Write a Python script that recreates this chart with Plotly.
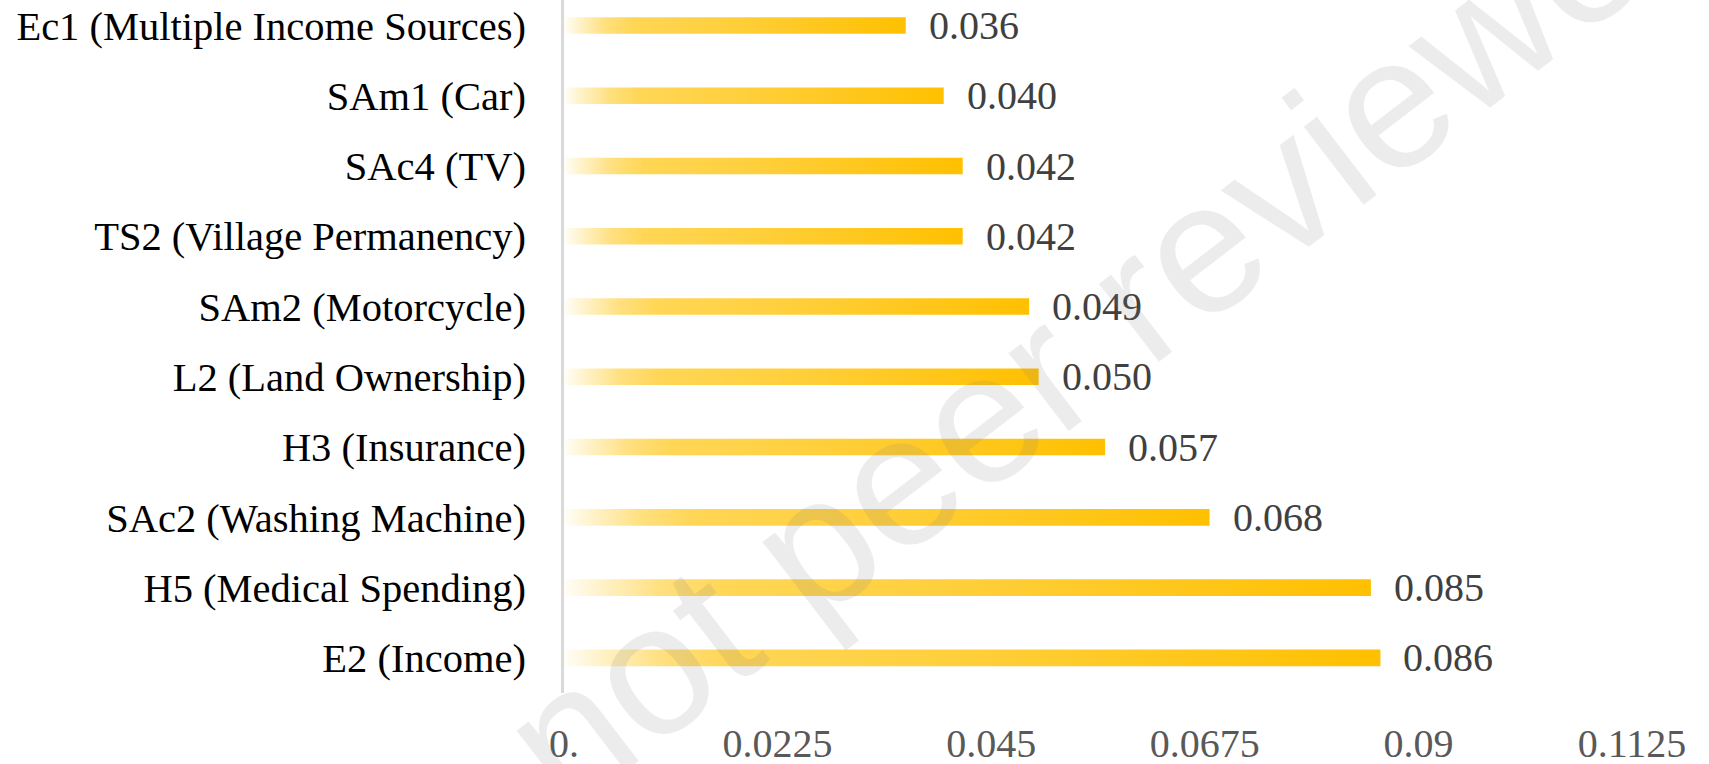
import plotly.graph_objects as go

# Indicator weights, listed top to bottom as displayed
categories = [
    "Ec1 (Multiple Income Sources)",
    "SAm1 (Car)",
    "SAc4 (TV)",
    "TS2 (Village Permanency)",
    "SAm2 (Motorcycle)",
    "L2 (Land Ownership)",
    "H3 (Insurance)",
    "SAc2 (Washing Machine)",
    "H5 (Medical Spending)",
    "E2 (Income)",
]
values = [0.036, 0.040, 0.042, 0.042, 0.049, 0.050, 0.057, 0.068, 0.085, 0.086]
value_labels = ["0.036", "0.040", "0.042", "0.042", "0.049", "0.050", "0.057", "0.068", "0.085", "0.086"]

x_tickvals = [0, 0.0225, 0.045, 0.0675, 0.09, 0.1125]
x_ticktext = ["0.", "0.0225", "0.045", "0.0675", "0.09", "0.1125"]

W, H = 1709, 764
M_L, M_R, M_T, M_B = 564, 77, 0, 71

BAR_HALF = 0.118
SERIF = "Liberation Serif"

gradient = [
    [0.0, "#fffef8"],
    [0.05, "#fff1c4"],
    [0.12, "#ffe07f"],
    [0.2, "#ffd656"],
    [0.5, "#ffcf3a"],
    [1.0, "#ffc000"],
]

n = len(categories)
positions = [n - 1 - i for i in range(n)]

fig = go.Figure()

# Each bar is a filled rectangle so it can carry a horizontal gradient
for cat, v, p in zip(categories, values, positions):
    fig.add_trace(go.Scatter(
        x=[0, v, v, 0, 0],
        y=[p - BAR_HALF, p - BAR_HALF, p + BAR_HALF, p + BAR_HALF, p - BAR_HALF],
        mode="lines",
        fill="toself",
        fillgradient=dict(type="horizontal", colorscale=gradient),
        line=dict(width=0, color="rgba(0,0,0,0)"),
        hoverinfo="skip",
        showlegend=False,
        name=cat,
    ))

# Value labels to the right of each bar
for v, p, txt in zip(values, positions, value_labels):
    fig.add_annotation(
        x=v, y=p, xref="x", yref="y",
        text=txt, showarrow=False,
        xanchor="left", yanchor="middle", xshift=21,
        font=dict(family=SERIF, size=40, color="#404040"),
    )

# Diagonal watermark
fig.add_annotation(
    x=(1113 - M_L) / (W - M_L - M_R), y=(H - M_B - 315) / (H - M_T - M_B),
    xref="paper", yref="paper",
    text="not peer reviewed", showarrow=False,
    textangle=-37.5, xanchor="center", yanchor="middle",
    font=dict(family="Liberation Sans", size=186,
              color="rgba(128,128,128,0.15)"),
)

fig.update_layout(
    template="none",
    width=W, height=H,
    margin=dict(l=M_L, r=M_R, t=M_T, b=M_B, pad=0),
    paper_bgcolor="white",
    plot_bgcolor="white",
    showlegend=False,
    xaxis=dict(
        range=[0, 0.1125],
        tickvals=x_tickvals, ticktext=x_ticktext,
        showgrid=False, zeroline=False, showline=False,
        ticks="", ticklabelstandoff=23,
        tickfont=dict(family=SERIF, size=40, color="#595959"),
        automargin=False, fixedrange=True,
    ),
    yaxis=dict(
        range=[-0.5, 9.363],
        tickvals=positions, ticktext=categories,
        showgrid=False, zeroline=False,
        showline=True, linecolor="#d9d9d9", linewidth=3,
        ticks="", ticklabelstandoff=27,
        tickfont=dict(family=SERIF, size=40.5, color="#000000"),
        automargin=False, fixedrange=True,
    ),
)

fig.write_html("out.html")
